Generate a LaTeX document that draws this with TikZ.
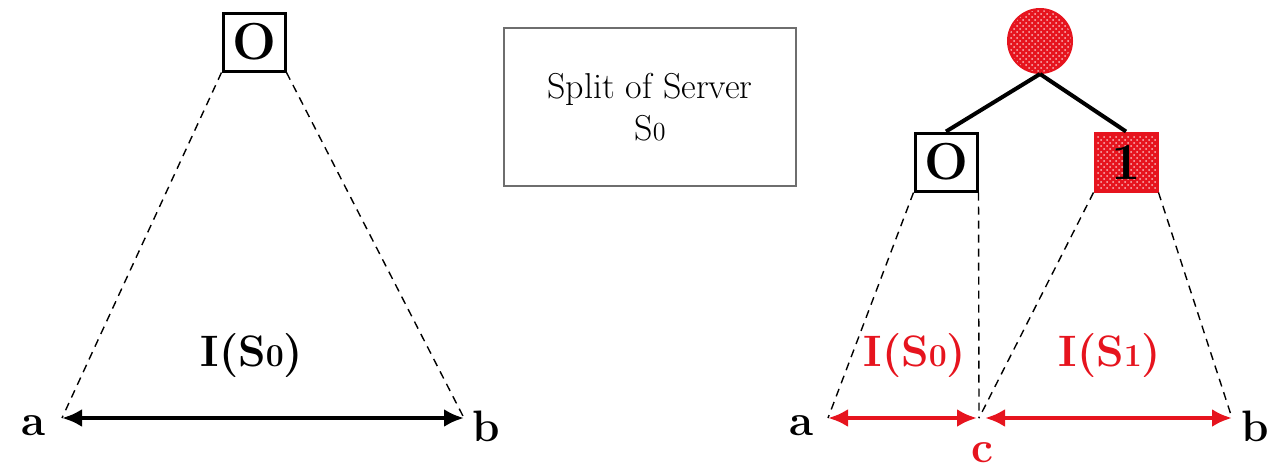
\documentclass[tikz,border=0pt]{standalone}
\usepackage{amsmath}
\usepackage{tikz}
\usetikzlibrary{arrows.meta,patterns}

\definecolor{splitred}{RGB}{230,20,30}
\definecolor{framegray}{RGB}{110,110,110}

\begin{document}
\begin{tikzpicture}[x=0.5pt,y=-0.5pt,
	server/.style={shape=rectangle,draw=black,line width=1.5pt,minimum width=31pt,minimum height=29pt,inner sep=0pt,font=\fontsize{26}{26}\selectfont\bfseries},
	redserver/.style={server,draw=splitred,preaction={fill=splitred},pattern=crosshatch dots,pattern color=white!70!splitred},
	span/.style={line width=2pt,{Latex[length=10pt,width=9pt]}-{Latex[length=10pt,width=9pt]}},
	guide/.style={dash pattern=on 4pt off 3pt,line width=0.7pt},
	lbl/.style={font=\fontsize{22}{22}\selectfont\bfseries}]
	\useasboundingbox (0,0) rectangle (1268,473);

	% server S0 before the split
	\node[server] (o1) at (254, 42)     {O};
	\coordinate (la) at (62, 418);
	\coordinate (lb) at (464, 418);
	\path[guide] (o1.south west) edge (la);
	\path[guide] (o1.south east) edge (lb);
	\path[span] (la) edge (lb);
	\node[lbl] (a1) at (34, 426)     {a};
	\node[lbl] (b1) at (486, 426)    {b};
	\node[lbl] (i1) at (252, 356)    {I(S{\fontsize{16}{16}\selectfont0})};

	% caption
	\node[shape=rectangle,draw=framegray,line width=1pt,minimum width=146pt,minimum height=79pt,align=center,font=\fontsize{18}{21}\selectfont] (cap) at (650, 107) {Split of Server\\S{\fontsize{13}{13}\selectfont0}};

	% after the split
	\node[shape=circle,draw=splitred,line width=1pt,minimum size=32pt,inner sep=0pt,preaction={fill=splitred},pattern=crosshatch dots,pattern color=white!70!splitred] (root) at (1040, 41) {};
	\node[server] (o2) at (946, 162)     {O};
	\node[redserver] (one) at (1126, 162) {1};
	\path[-,line width=2pt] (root.south) edge (o2.north);
	\path[-,line width=2pt] (root.south) edge (one.north);

	\coordinate (ra) at (828, 418);
	\coordinate (rc) at (979, 418);
	\coordinate (rb) at (1232, 418);
	\path[guide] (o2.south west) edge (ra);
	\path[guide] (o2.south east) edge (rc);
	\path[guide] (one.south west) edge (rc);
	\path[guide] (one.south east) edge (rb);
	\path[span,splitred] (ra) edge ([xshift=-1pt]rc);
	\path[span,splitred] ([xshift=3pt]rc) edge (rb);

	\node[lbl] (a2) at (802, 426)    {a};
	\node[lbl] (b2) at (1255, 426)   {b};
	\node[lbl,text=splitred,inner sep=1pt] (c2) at (982, 453)  {c};
	\node[lbl,text=splitred] (i2) at (915, 356)  {I(S{\fontsize{16}{16}\selectfont0})};
	\node[lbl,text=splitred] (i3) at (1110, 356) {I(S{\fontsize{16}{16}\selectfont1})};
\end{tikzpicture}
\end{document}
